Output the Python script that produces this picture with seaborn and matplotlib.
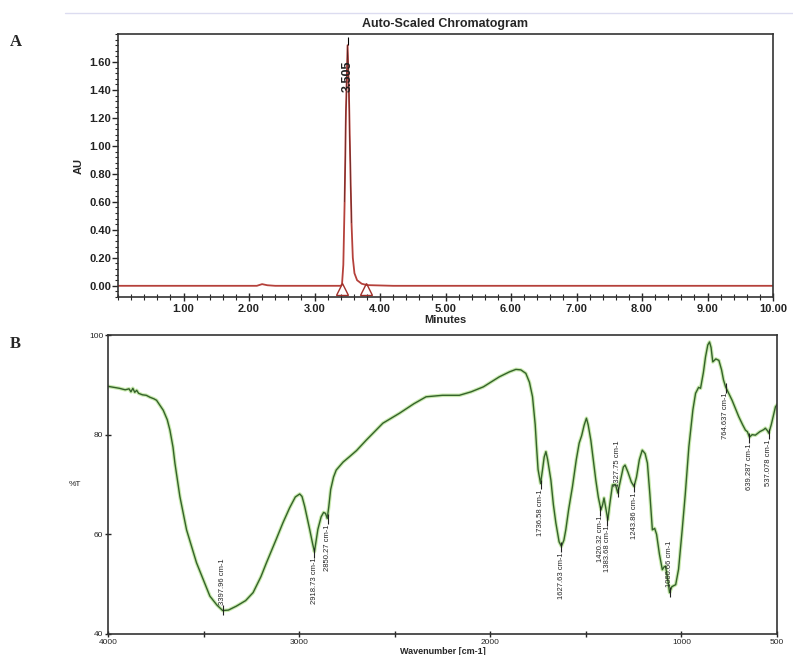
import numpy as np
import pandas as pd
import seaborn as sns
import matplotlib.pyplot as plt
from matplotlib.lines import Line2D
from matplotlib.ticker import MultipleLocator

# --- panel A: HPLC chromatogram ---
rt_min = [0.0, 1.0, 2.0, 2.12, 2.2, 2.28, 2.4, 3.0, 3.40, 3.42, 3.44, 3.46, 3.48, 3.505,
          3.525, 3.545, 3.565, 3.585, 3.61, 3.65, 3.72, 3.80, 4.2, 6.0, 8.0, 10.0]
au = [0.0, 0.0, 0.0, 0.0, 0.012, 0.004, 0.0, 0.0, 0.0, 0.01, 0.15, 0.60, 1.25, 1.72,
      1.40, 0.90, 0.45, 0.20, 0.09, 0.04, 0.015, 0.005, 0.0, 0.0, 0.0, 0.0]
peak_rt = 3.505
peak_label = "3.505"
bounds_rt = [3.42, 3.79]

# --- panel B: FTIR spectrum ---
wavenumber = [4000, 3970, 3940, 3910, 3890, 3880, 3870, 3860, 3850, 3840, 3820, 3800, 3780, 3760,
              3746, 3730, 3711, 3690, 3676, 3660, 3650, 3624, 3589, 3537, 3467, 3430, 3400, 3370,
              3328, 3280, 3241, 3200, 3171, 3120, 3085, 3050, 3020, 2997, 2985, 2971, 2945, 2930,
              2920, 2912, 2902, 2885, 2872, 2862, 2853, 2845, 2835, 2820, 2806, 2770, 2736, 2700,
              2649, 2600, 2562, 2475, 2400, 2336, 2250, 2162, 2100, 2036, 1953, 1900, 1866, 1840,
              1814, 1795, 1779, 1765, 1758, 1750, 1737, 1727, 1718, 1709, 1700, 1683, 1670, 1657,
              1640, 1628, 1615, 1605, 1590, 1570, 1550, 1535, 1522, 1509, 1497, 1488, 1474, 1460,
              1448, 1435, 1421, 1412, 1405, 1397, 1385, 1375, 1361, 1345, 1333, 1318, 1304, 1295,
              1280, 1262, 1248, 1235, 1220, 1205, 1190, 1178, 1165, 1152, 1140, 1130, 1115, 1100,
              1090, 1083, 1070, 1062, 1050, 1030, 1015, 996, 980, 961, 940, 926, 910, 900, 885,
              874, 862, 853, 845, 836, 820, 804, 790, 780, 769, 755, 735, 720, 700, 680, 665, 655,
              644, 630, 613, 590, 570, 561, 550, 543, 530, 518, 508, 500]
transmittance = [89.7, 89.5, 89.3, 89.0, 89.2, 88.6, 89.3, 88.5, 88.9, 88.3, 88.0, 87.9, 87.5, 87.2,
                 86.9, 86.0, 84.9, 83.0, 80.9, 77.5, 74.3, 67.6, 60.9, 54.3, 47.6, 45.8, 44.7, 44.8,
                 45.6, 46.7, 48.3, 51.5, 54.3, 59.0, 62.3, 65.3, 67.5, 68.1, 67.6, 65.6, 61.0, 58.2,
                 56.5, 58.5, 61.0, 63.5, 64.4, 64.2, 63.2, 65.5, 69.0, 71.5, 72.9, 74.5, 75.6, 76.8,
                 78.9, 80.8, 82.3, 84.3, 86.2, 87.6, 87.9, 87.9, 88.6, 89.6, 91.6, 92.6, 93.1, 93.0,
                 92.3, 90.5, 87.6, 82.0, 77.6, 73.0, 70.2, 72.9, 75.5, 76.6, 75.0, 70.9, 66.0, 62.3,
                 58.5, 57.6, 58.8, 60.9, 65.0, 69.6, 75.0, 78.3, 79.8, 81.9, 83.3, 82.0, 78.9, 74.5,
                 70.9, 67.5, 64.9, 66.0, 67.3, 65.5, 62.9, 66.0, 69.9, 70.0, 68.3, 71.0, 73.5, 73.9,
                 72.5, 70.5, 69.6, 71.5, 75.0, 76.9, 76.2, 74.3, 68.0, 60.9, 61.2, 60.0, 56.0, 52.9,
                 53.5, 53.6, 50.5, 48.3, 49.5, 49.9, 53.0, 60.9, 68.0, 77.6, 85.0, 88.3, 89.5, 89.3, 92.5,
                 95.6, 98.0, 98.6, 97.5, 94.6, 95.2, 94.9, 93.0, 91.0, 89.6, 88.5, 86.9, 85.5, 83.6, 82.0, 80.9, 80.6,
                 79.5, 80.0, 79.9, 80.6, 81.0, 81.3, 80.8, 80.3, 82.0, 84.0, 85.6, 86.0]

band_labels = ["3397.96 cm-1", "2918.73 cm-1", "2850.27 cm-1", "1736.58 cm-1", "1627.63 cm-1",
               "1420.32 cm-1", "1383.68 cm-1", "1327.75 cm-1", "1243.86 cm-1", "1060.66 cm-1",
               "764.637 cm-1", "639.287 cm-1", "537.078 cm-1"]
band_wn = [3400, 2920, 2850, 1737, 1628, 1425, 1388, 1332, 1246, 1062, 769, 645, 543]
band_min = [44.7, 56.5, 63.2, 70.2, 57.6, 64.9, 62.9, 68.3, 69.6, 48.3, 89.6, 79.5, 80.3]
band_above = [True, False, False, False, False, False, False, True, False, True, False, False, False]

sns.set_style("ticks")
plt.rcParams['font.family'] = ['Liberation Sans', 'DejaVu Sans']

fig = plt.figure(figsize=(7.93, 6.55), dpi=100)
W, H = 793, 655
axA = fig.add_axes([118 / W, 1 - 297 / H, (773 - 118) / W, (297 - 34) / H])
axB = fig.add_axes([108 / W, 1 - 634 / H, (777 - 108) / W, (634 - 335) / H])

fig.add_artist(Line2D([65 / W, 1], [1 - 13 / H, 1 - 13 / H], color="#dcdcf0", lw=1))
fig.text(10 / W, 1 - 42 / H, "A", family="Liberation Serif", weight="bold", fontsize=12, va="center")
fig.text(10 / W, 1 - 344 / H, "B", family="Liberation Serif", weight="bold", fontsize=12, va="center")

# chromatogram
dfA = pd.DataFrame({"Minutes": rt_min, "AU": au})
sns.lineplot(data=dfA, x="Minutes", y="AU", ax=axA, color="#b5413b", lw=1.3)
pk = dfA[(dfA.Minutes >= 3.46) & (dfA.Minutes <= 3.565)]
axA.plot(pk.Minutes, pk.AU, color="#4a2020", lw=0.4)
axA.vlines(peak_rt, max(au), max(au) + 0.06, color="black", lw=0.8)
axA.text(peak_rt, 1.50, peak_label, rotation=90, ha="center", va="center", fontsize=9,
         weight="bold", color="#222222")
axA.plot(bounds_rt, [-0.022, -0.022], ls="none", marker="^", ms=8, mfc="none",
         mec="#a0302a", mew=1.0)
axA.set_xlim(0, 10)
axA.set_ylim(-0.08, 1.80)
axA.set_xticks(np.arange(1, 11))
axA.set_xticklabels([f"{v:.2f}" for v in range(1, 11)])
axA.set_yticks(np.arange(0, 1.61, 0.2))
axA.set_yticklabels([f"{v:.2f}" for v in np.arange(0, 1.61, 0.2)])
axA.xaxis.set_minor_locator(MultipleLocator(0.2))
axA.yaxis.set_minor_locator(MultipleLocator(0.04))
axA.tick_params(axis="x", which="major", direction="inout", length=6, width=1, labelsize=8, pad=2)
axA.tick_params(axis="x", which="minor", direction="inout", length=4, width=0.8)
axA.tick_params(axis="y", which="major", direction="out", length=4, width=1, labelsize=8, pad=1)
axA.tick_params(axis="y", which="minor", direction="out", length=2, width=0.8)
for lab in axA.get_xticklabels() + axA.get_yticklabels():
    lab.set_fontweight("bold")
    lab.set_color("#222222")
axA.set_xlabel("Minutes", fontsize=8, weight="bold", labelpad=1)
axA.set_ylabel("AU", fontsize=8, weight="bold", labelpad=4)
axA.set_title("Auto-Scaled Chromatogram", fontsize=9, weight="bold", pad=5)
for s in axA.spines.values():
    s.set_linewidth(1.2)
    s.set_color("#333333")

# FTIR spectrum
dfB = pd.DataFrame({"wn": wavenumber, "T": transmittance})
axB.plot(dfB.wn, dfB["T"], color="#a6dc7a", lw=2.6, alpha=0.6)
sns.lineplot(data=dfB, x="wn", y="T", ax=axB, color="#34622a", lw=1.0, sort=False)
for lab, x, y, above in zip(band_labels, band_wn, band_min, band_above):
    if above:
        axB.vlines(x, y - 0.8, y + 1.2, color="#222222", lw=0.8)
        axB.text(x, y + 1.2, lab, rotation=90, ha="center", va="bottom", fontsize=5.5)
    else:
        axB.vlines(x, y - 1.2, y + 0.8, color="#222222", lw=0.8)
        axB.text(x, y - 1.2, lab, rotation=90, ha="center", va="top", fontsize=5.5)
axB.set_xlim(4000, 500)
axB.set_ylim(40, 100)
axB.set_xticks([4000, 3000, 2000, 1000, 500])
axB.set_xticklabels(["4000", "3000", "2000", "1000", "500"])
axB.set_xticks([3500, 2500, 1500], minor=True)
axB.set_yticks([40, 60, 80, 100])
axB.set_yticklabels(["40", "60", "80", "100"])
axB.tick_params(axis="both", which="both", direction="inout", length=5, width=1,
                labelsize=6, pad=1)
axB.set_xlabel("Wavenumber [cm-1]", fontsize=6.5, weight="bold", labelpad=1)
axB.set_ylabel("%T", fontsize=6, rotation=0, labelpad=10, va="center")
for s in axB.spines.values():
    s.set_linewidth(1.2)
    s.set_color("#333333")

fig.savefig("out.png", dpi=100)
